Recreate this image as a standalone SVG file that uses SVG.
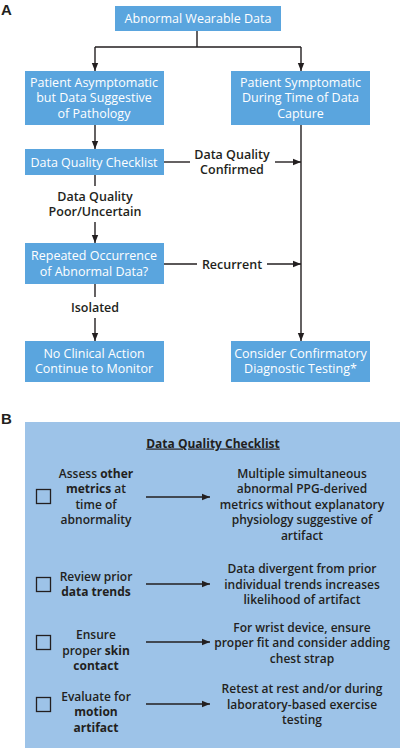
<svg xmlns="http://www.w3.org/2000/svg" width="402" height="750" viewBox="0 0 402 750">
<defs>
<marker id="ah" viewBox="0 0 10 10" refX="10" refY="5" markerWidth="8" markerHeight="8" markerUnits="userSpaceOnUse" orient="auto">
<path d="M0,1 L10,5 L0,9 Z" fill="#231f20"/>
</marker>
<style>
text{font-family:"Open Sans","Noto Sans","Liberation Sans",sans-serif;font-size:12.5px;text-anchor:middle;font-weight:500}
.box{fill:#5aa5de}
.w{fill:#ffffff}
.k{fill:#231f20;font-weight:600}
.b{font-size:12px}
.bd{font-weight:700}
.ln{stroke:#231f20;stroke-width:1.4;fill:none}
.cb{fill:none;stroke:#231f20;stroke-width:1.3}
.pl{font-family:"Liberation Sans",Arial,sans-serif;font-weight:bold;font-size:15px;text-anchor:start;fill:#231f20}
</style>
</defs>
<rect width="402" height="750" fill="#ffffff"/>
<text class="pl" x="1" y="15">A</text>
<text class="pl" x="1" y="424">B</text>

<g id="connectors">
<path class="ln" d="M197,31 V47 M95,47 H301"/>
<path class="ln" d="M95,47 V71" marker-end="url(#ah)"/>
<path class="ln" d="M301,47 V71" marker-end="url(#ah)"/>
<path class="ln" d="M95,125 V149" marker-end="url(#ah)"/>
<path class="ln" d="M301,125 V341" marker-end="url(#ah)"/>
<path class="ln" d="M163,162 H190"/>
<path class="ln" d="M275,162 H301" marker-end="url(#ah)"/>
<text class="k" x="232" y="158.5">Data Quality</text>
<text class="k" x="232" y="174">Confirmed</text>
<path class="ln" d="M95,175 V186"/>
<path class="ln" d="M95,222 V243" marker-end="url(#ah)"/>
<text class="k" x="95" y="200.5">Data Quality</text>
<text class="k" x="95" y="216">Poor/Uncertain</text>
<path class="ln" d="M163,264 H197"/>
<path class="ln" d="M267,264 H301" marker-end="url(#ah)"/>
<text class="k" x="232" y="268.5">Recurrent</text>
<path class="ln" d="M95,284 V297"/>
<path class="ln" d="M95,318 V341" marker-end="url(#ah)"/>
<text class="k" x="95" y="311.5">Isolated</text>
</g>

<g id="n-abnormal">
<rect class="box" x="115" y="6" width="166" height="25"/>
<text class="w" x="198" y="23">Abnormal Wearable Data</text>
</g>
<g id="n-asymptomatic">
<rect class="box" x="25" y="71" width="139" height="54"/>
<text class="w" x="94" y="86.5">Patient Asymptomatic</text>
<text class="w" x="94" y="102">but Data Suggestive</text>
<text class="w" x="94" y="117.5">of Pathology</text>
</g>
<g id="n-symptomatic">
<rect class="box" x="231" y="71" width="139" height="54"/>
<text class="w" x="300.5" y="86.5">Patient Symptomatic</text>
<text class="w" x="300.5" y="102">During Time of Data</text>
<text class="w" x="300.5" y="117.5">Capture</text>
</g>
<g id="n-checklist">
<rect class="box" x="25" y="149" width="139" height="26"/>
<text class="w" x="94" y="166.5">Data Quality Checklist</text>
</g>
<g id="n-repeated">
<rect class="box" x="25" y="243" width="139" height="41"/>
<text class="w" x="94" y="260">Repeated Occurrence</text>
<text class="w" x="94" y="275.5">of Abnormal Data?</text>
</g>
<g id="n-noaction">
<rect class="box" x="25" y="341" width="139" height="41"/>
<text class="w" x="94" y="357.5">No Clinical Action</text>
<text class="w" x="94" y="373">Continue to Monitor</text>
</g>
<g id="n-confirm">
<rect class="box" x="231" y="341" width="139" height="41"/>
<text class="w" x="300.5" y="357.5">Consider Confirmatory</text>
<text class="w" x="300.5" y="373">Diagnostic Testing*</text>
</g>

<g id="panel-b">
<rect x="25" y="422" width="375" height="326" fill="#9dc3e8"/>
<text class="k b bd" x="213" y="447.5" text-decoration="underline">Data Quality Checklist</text>

<g id="row1">
<rect class="cb" x="36.5" y="489.5" width="14" height="14"/>
<text class="k b" x="96" y="477.5">Assess <tspan class="bd">other</tspan></text>
<text class="k b" x="96" y="493"><tspan class="bd">metrics</tspan> at</text>
<text class="k b" x="96" y="508.5">time of</text>
<text class="k b" x="96" y="524">abnormality</text>
<path class="ln" d="M146,497 H210" marker-end="url(#ah)"/>
<text class="k b" x="302" y="477.5">Multiple simultaneous</text>
<text class="k b" x="302" y="493">abnormal PPG-derived</text>
<text class="k b" x="302" y="508.5">metrics without explanatory</text>
<text class="k b" x="302" y="524">physiology suggestive of</text>
<text class="k b" x="302" y="539.5">artifact</text>
</g>

<g id="row2">
<rect class="cb" x="36.5" y="577.5" width="14" height="14"/>
<text class="k b" x="96" y="580.5">Review prior</text>
<text class="k b bd" x="96" y="596">data trends</text>
<path class="ln" d="M146,584 H210" marker-end="url(#ah)"/>
<text class="k b" x="302" y="573">Data divergent from prior</text>
<text class="k b" x="302" y="588.5">individual trends increases</text>
<text class="k b" x="302" y="604">likelihood of artifact</text>
</g>

<g id="row3">
<rect class="cb" x="36.5" y="635.5" width="14" height="14"/>
<text class="k b" x="96" y="639">Ensure</text>
<text class="k b" x="96" y="654.5">proper <tspan class="bd">skin</tspan></text>
<text class="k b bd" x="96" y="670">contact</text>
<path class="ln" d="M146,642 H210" marker-end="url(#ah)"/>
<text class="k b" x="302" y="631.5">For wrist device, ensure</text>
<text class="k b" x="302" y="647">proper fit and consider adding</text>
<text class="k b" x="302" y="662.5">chest strap</text>
</g>

<g id="row4">
<rect class="cb" x="36.5" y="697.5" width="14" height="14"/>
<text class="k b" x="96" y="700.5">Evaluate for</text>
<text class="k b bd" x="96" y="716">motion</text>
<text class="k b bd" x="96" y="731.5">artifact</text>
<path class="ln" d="M146,704 H210" marker-end="url(#ah)"/>
<text class="k b" x="302" y="693">Retest at rest and/or during</text>
<text class="k b" x="302" y="708.5">laboratory-based exercise</text>
<text class="k b" x="302" y="724">testing</text>
</g>
</g>
</svg>
